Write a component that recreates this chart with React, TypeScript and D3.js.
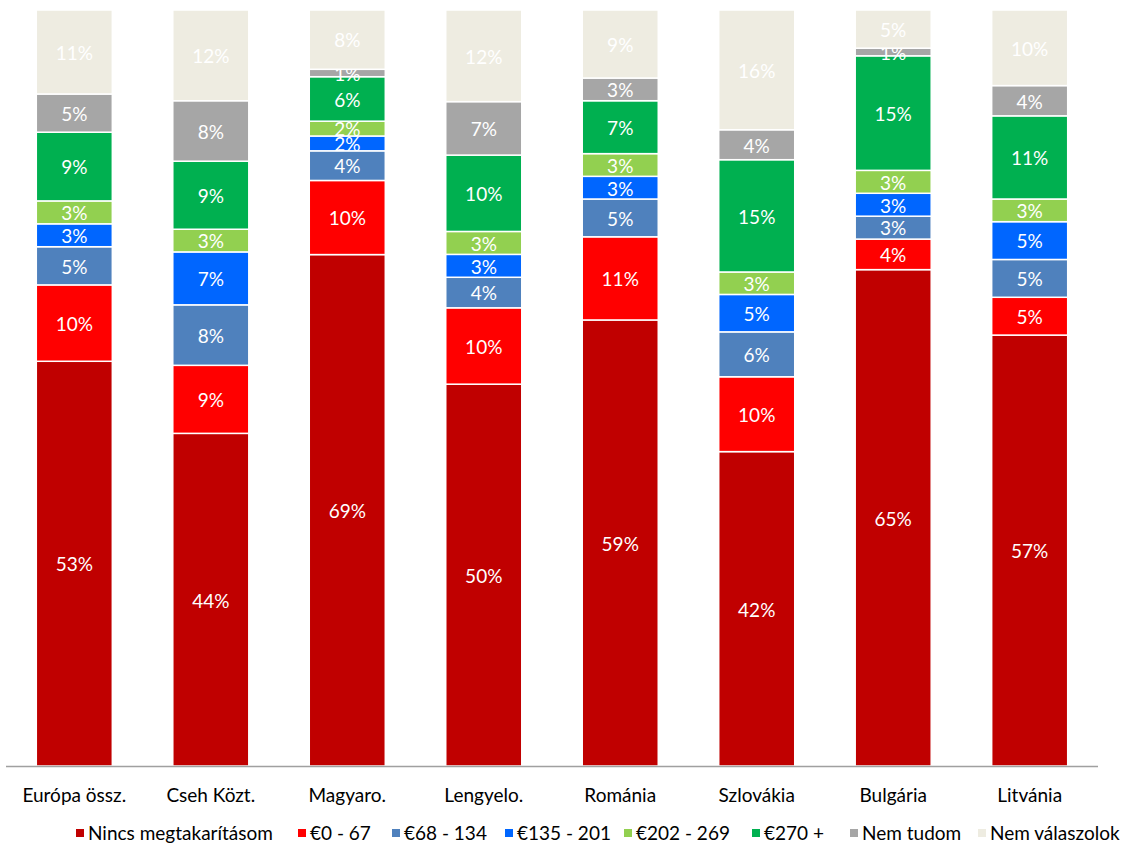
import React from "react";
import * as d3 from "d3";

const categories = ["Európa össz.", "Cseh Közt.", "Magyaro.", "Lengyelo.", "Románia", "Szlovákia", "Bulgária", "Litvánia"];
const seriesNames = ["Nincs megtakarításom", "€0 - 67", "€68 - 134", "€135 - 201", "€202 - 269", "€270 +", "Nem tudom", "Nem válaszolok"];
const seriesColors = ["#C00000", "#FF0000", "#4F81BD", "#0066FF", "#92D050", "#00B050", "#A6A6A6", "#EEECE1"];

const nincs = [53, 44, 69, 50, 59, 42, 65, 57];
const e0_67 = [10, 9, 10, 10, 11, 10, 4, 5];
const e68_134 = [5, 8, 4, 4, 5, 6, 3, 5];
const e135_201 = [3, 7, 2, 3, 3, 5, 3, 5];
const e202_269 = [3, 3, 2, 3, 3, 3, 3, 3];
const e270 = [9, 9, 6, 10, 7, 15, 15, 11];
const nemTudom = [5, 8, 1, 7, 3, 4, 1, 4];
const nemValaszolok = [11, 12, 8, 12, 9, 16, 5, 10];

const seriesValues = [nincs, e0_67, e68_134, e135_201, e202_269, e270, nemTudom, nemValaszolok];

const legendX = [76, 298, 392, 505, 624, 752, 850, 978];

const W = 1126;
const H = 846;
const FONT = "Lato, 'Open Sans', sans-serif";
const FS = 19;

export default function App() {
  const x = d3.scaleBand<string>().domain(categories).range([6, 1098]).paddingInner(0.443).paddingOuter(0.222);
  const y = d3.scaleLinear().domain([0, 1]).range([766, 10]);

  const rows = categories.map((c, i) => {
    const o: any = { cat: c };
    const total = d3.sum(seriesValues, (s) => s[i]);
    seriesNames.forEach((n, k) => (o[n] = seriesValues[k][i] / total));
    return o;
  });
  const stacked = d3.stack<any>().keys(seriesNames)(rows);

  return (
    <svg width={W} height={H} style={{ position: "absolute", left: 0, top: 0 }} fontFamily={FONT}>
      <rect width={W} height={H} fill="#fff" />
      {stacked.map((layer, k) => (
        <g key={k}>
          {layer.map((d, i) => {
            const x0 = x(categories[i])!;
            const y0 = y(d[1]);
            const y1 = y(d[0]);
            return (
              <g key={i}>
                <rect x={x0} y={y0} width={x.bandwidth()} height={y1 - y0} fill={seriesColors[k]} stroke="#fff" strokeWidth={1.5} />
                <text x={x0 + x.bandwidth() / 2} y={(y0 + y1) / 2 + 1} dy="0.36em" textAnchor="middle" fill="#fff" fontSize={FS}>
                  {seriesValues[k][i]}%
                </text>
              </g>
            );
          })}
        </g>
      ))}
      <line x1={6} x2={1098} y1={766.5} y2={766.5} stroke="#A0A0A0" strokeWidth={1.5} />
      {categories.map((c) => (
        <text key={c} x={x(c)! + x.bandwidth() / 2} y={802} textAnchor="middle" fontSize={FS} fill="#000">
          {c}
        </text>
      ))}
      {seriesNames.map((n, k) => (
        <g key={n}>
          <rect x={legendX[k]} y={829} width={8} height={8} fill={seriesColors[k]} />
          <text x={legendX[k] + 12} y={840} fontSize={FS} fill="#000">
            {n}
          </text>
        </g>
      ))}
    </svg>
  );
}
